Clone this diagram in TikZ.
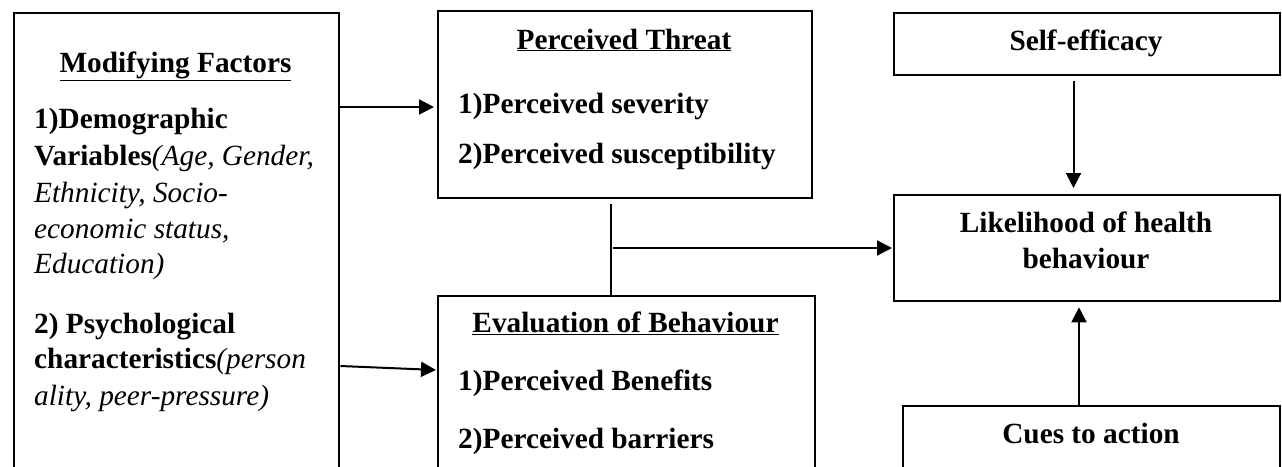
\documentclass[tikz,border=0pt]{standalone}
\usepackage{fontspec}
\setmainfont{Liberation Serif}
\usetikzlibrary{arrows.meta}
\newcommand\boxfont{\fontsize{29.3}{36.5}\selectfont\bfseries}
\newcommand\itpart[1]{{\mdseries\itshape #1}}
\begin{document}
\begin{tikzpicture}[x=1pt,y=-1pt,
  box/.style={draw, line width=2.3pt, rectangle, inner sep=0, anchor=north west},
  txt/.style={font=\boxfont, inner sep=0, anchor=base west},
  ctr/.style={font=\boxfont, inner sep=0, anchor=base},
  arr/.style={line width=2pt, -{Triangle[length=15pt,width=15pt]}},
  ln/.style={line width=1.2pt}]
\clip (0,0) rectangle (1282,466);
\fill[white] (0,0) rectangle (1282,466);
% boxes
\node[box, minimum width=325pt, minimum height=480pt] (mf) at (13,12) {};
\node[box, minimum width=374pt, minimum height=187pt] (pt) at (437,10) {};
\node[box, minimum width=377pt, minimum height=200pt] (eb) at (437,295) {};
\node[box, minimum width=386pt, minimum height=62pt] (se) at (893,12) {};
\node[box, minimum width=386pt, minimum height=106pt] (lh) at (893,194) {};
\node[box, minimum width=377pt, minimum height=100pt] (ca) at (902,405) {};
% left box text
\node[ctr] (mfh) at (175.5,72) {\underline{Modifying Factors}};
\node[txt] (mf1) at (34,128) {1)Demographic};
\node[txt] (mf2) at (34,165) {Variables\itpart{(Age, Gender,}};
\node[txt] (mf3) at (34,202) {\itpart{Ethnicity, Socio-}};
\node[txt] (mf4) at (34,238) {\itpart{economic status,}};
\node[txt] (mf5) at (34,273) {\itpart{Education)}};
\node[txt] (mf6) at (34,333) {2) Psychological};
\node[txt] (mf7) at (34,368) {characteristics\itpart{(person}};
\node[txt] (mf8) at (34,405) {\itpart{ality, peer-pressure)}};
% perceived threat
\node[ctr] (pth) at (624,49) {\underline{Perceived Threat}};
\node[txt] (pt1) at (458,113) {1)Perceived severity};
\node[txt] (pt2) at (458,163) {2)Perceived susceptibility};
% evaluation
\node[ctr] (ebh) at (625.5,332) {\underline{Evaluation of Behaviour}};
\node[txt] (eb1) at (458,390) {1)Perceived Benefits};
\node[txt] (eb2) at (458,448) {2)Perceived barriers};
% right column
\node[ctr] (set) at (1086,50) {Self-efficacy};
\node[ctr] (lh1) at (1086,232) {Likelihood of health};
\node[ctr] (lh2) at (1086,268) {behaviour};
\node[ctr] (cat) at (1091,443) {Cues to action};
% connectors
\coordinate (a1) at (0,107);
\coordinate (a2s) at (0,366);
\coordinate (a2e) at (0,370);
\coordinate (j) at (611,204);
\coordinate (h) at (613,248);
\coordinate (x1) at (1073.5,0);
\coordinate (x2) at (1079,0);
\draw[arr, shorten >=3pt] (mf.east |- a1) -- (pt.west |- a1);
\draw[arr, shorten >=1pt] (mf.east |- a2s) -- (eb.west |- a2e);
\draw[ln] (j) -- (j |- eb.north);
\draw[arr, shorten >=1pt] (h) -- (h -| lh.west);
\draw[arr, shorten <=5pt, shorten >=6pt] (se.south -| x1) -- (lh.north -| x1);
\draw[arr, shorten >=5pt] (ca.north -| x2) -- (lh.south -| x2);
\end{tikzpicture}
\end{document}
